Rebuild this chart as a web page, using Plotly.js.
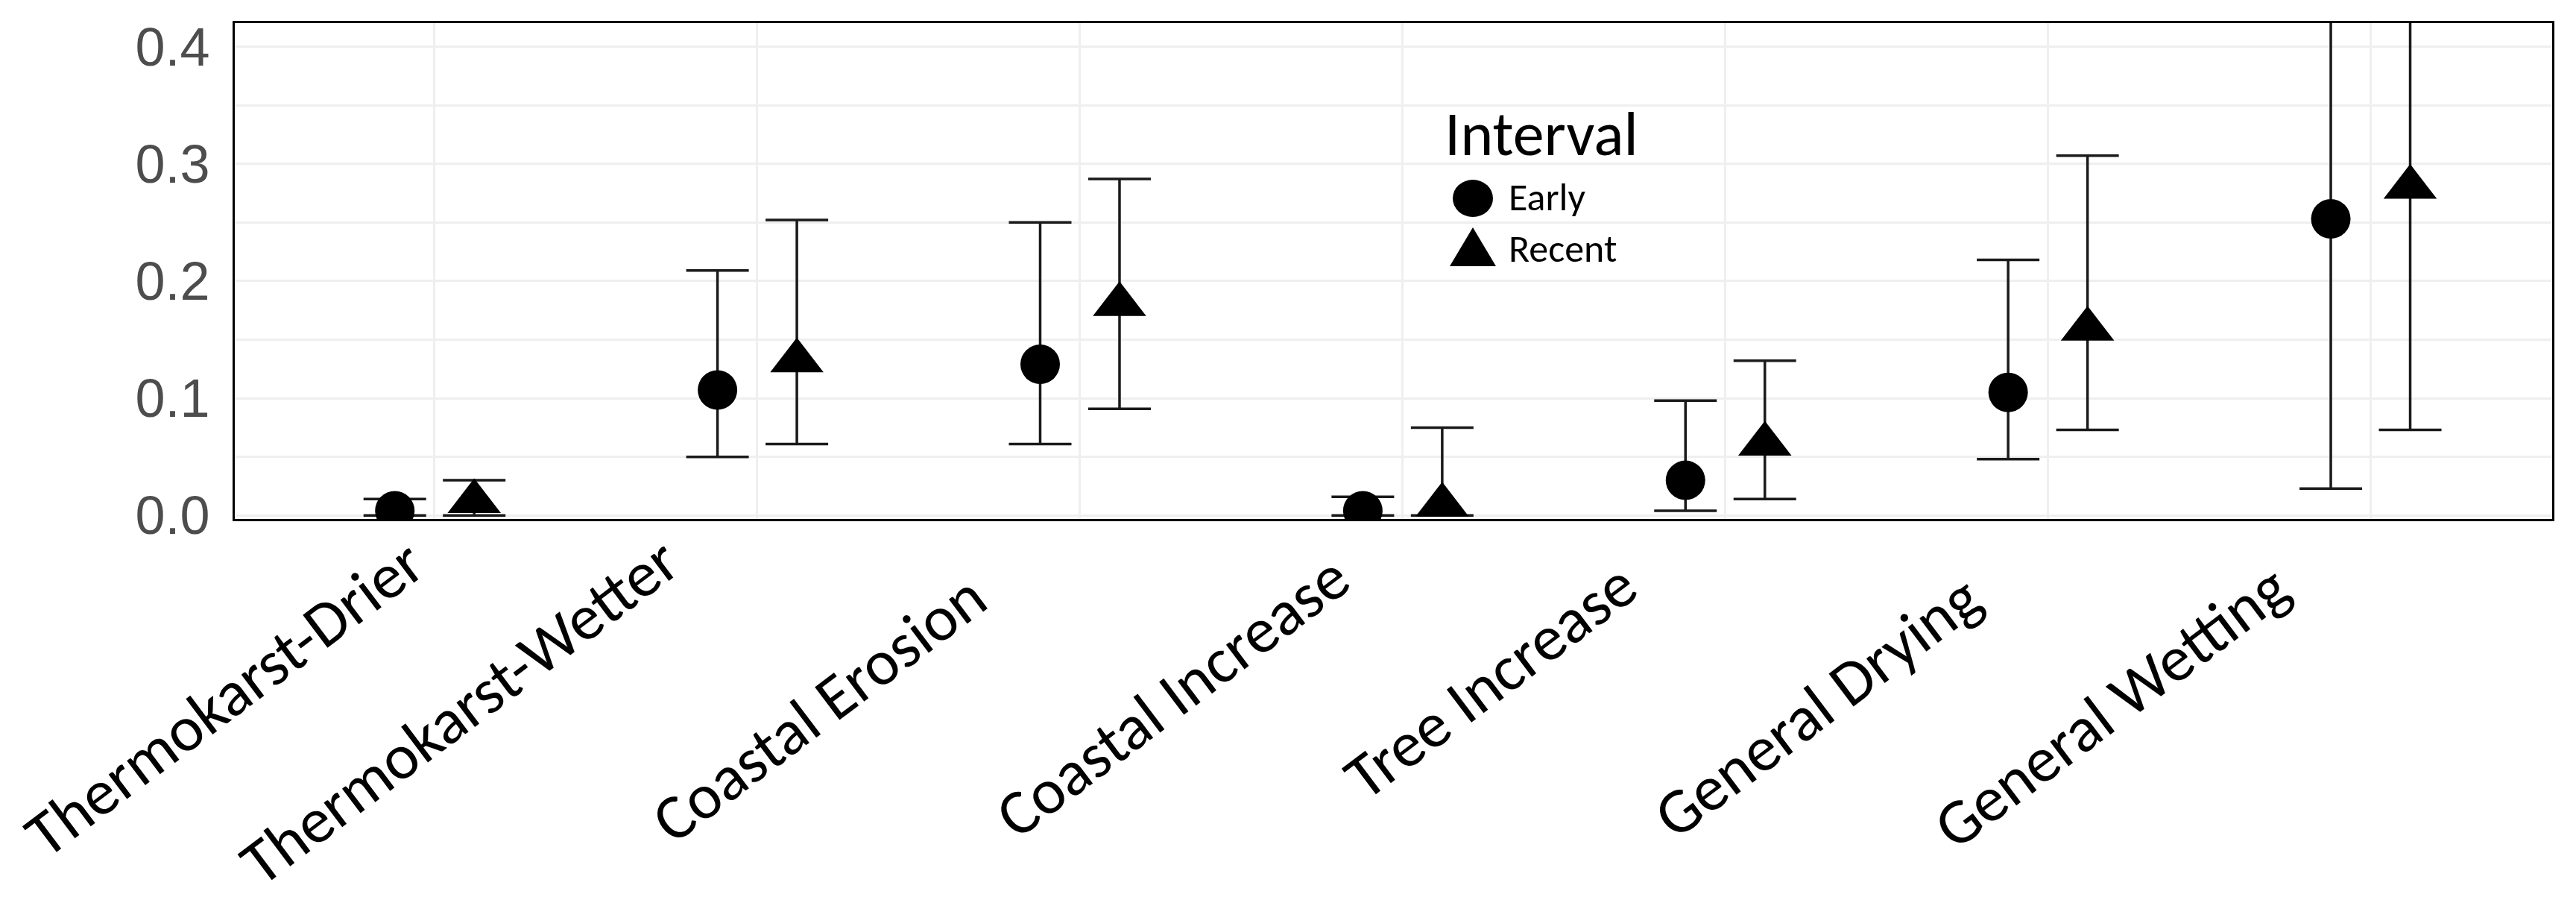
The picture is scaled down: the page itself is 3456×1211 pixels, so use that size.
<!DOCTYPE html>
<html>
<head>
<meta charset="utf-8">
<script src="https://cdn.plot.ly/plotly-3.0.1.min.js"></script>
<style>html,body{margin:0;padding:0;background:#fff;}#chart{width:3456px;height:1211px;}</style>
</head>
<body>
<div id="chart"></div>
<script>
// ---- data ----
const categories = ["Thermokarst-Drier","Thermokarst-Wetter","Coastal Erosion","Coastal Increase","Tree Increase","General Drying","General Wetting"];
const earlyValue = [0.004, 0.107, 0.129, 0.004, 0.030, 0.105, 0.253];
const earlyLower = [0.000, 0.050, 0.061, 0.000, 0.004, 0.048, 0.023];
const earlyUpper = [0.014, 0.209, 0.250, 0.016, 0.098, 0.218, 0.520];
const recentValue = [0.012, 0.132, 0.180, 0.009, 0.061, 0.159, 0.280];
const recentLower = [0.000, 0.061, 0.091, 0.000, 0.014, 0.073, 0.073];
const recentUpper = [0.030, 0.252, 0.287, 0.075, 0.132, 0.307, 0.520];
const yTickVals = [0.0, 0.1, 0.2, 0.3, 0.4];
const yTickText = ["0.0", "0.1", "0.2", "0.3", "0.4"];
const seriesNames = ["Early", "Recent"];
const legendTitle = "Interval";

// ---- layout (label placement offsets in pixels, hand-placed in the original) ----
const labelShiftX = [7, -83, -104, -50, -97, -69, -88];
const labelTopY  = [700, 697, 746, 720, 730, 747, 733];

const dodge = 0.123;
const catIdx = categories.map((c, i) => i + 1);
const errCol = "#1a1a1a";

function mkTrace(name, vals, lo, hi, shift, symbol, size) {
  return {
    type: "scatter", mode: "markers", name: name,
    x: catIdx.map(v => v + shift), y: vals,
    marker: {symbol: symbol, size: size, color: "#000000", line: {width: 0}},
    error_y: {
      type: "data", symmetric: false,
      array: vals.map((v, i) => hi[i] - v),
      arrayminus: vals.map((v, i) => v - lo[i]),
      color: errCol, thickness: 3.5, width: 42
    },
    showlegend: false,
    cliponaxis: true
  };
}

const traces = [
  mkTrace(seriesNames[0], earlyValue, earlyLower, earlyUpper, -dodge, "circle", 53),
  mkTrace(seriesNames[1], recentValue, recentLower, recentUpper, dodge, "triangle-up", 62)
];

const L = 315, R = 32, T = 31, B = 515;
const W = 3456, H = 1211;
const pw = W - L - R, ph = H - T - B;
const px = x => (x - L) / pw;
const py = y => (H - B - y) / ph;

const txtFont = "Carlito, Lato, 'Open Sans', sans-serif";

const catLabels = categories.map((c, i) => ({
  text: c, xref: "x", yref: "paper", x: catIdx[i], y: py(labelTopY[i]),
  xanchor: "right", yanchor: "top", xshift: labelShiftX[i],
  textangle: -37, showarrow: false, borderpad: 0,
  font: {family: txtFont, size: 86, color: "#000000"}
}));

const layout = {
  width: W, height: H,
  margin: {l: L, r: R, t: T, b: B, pad: 0},
  paper_bgcolor: "#ffffff", plot_bgcolor: "#ffffff",
  showlegend: false,
  xaxis: {
    range: [0.381, 7.563],
    tickmode: "array", tickvals: catIdx, ticktext: categories,
    showticklabels: false,
    showgrid: true, gridcolor: "#EFEFEF", gridwidth: 3,
    zeroline: false,
    showline: true, linecolor: "#000000", linewidth: 3, mirror: true,
    ticks: ""
  },
  yaxis: {
    range: [-0.003, 0.42],
    tickmode: "array", tickvals: yTickVals, ticktext: yTickText,
    tickfont: {family: "'Liberation Sans', Arial, sans-serif", size: 72, color: "#4D4D4D"},
    showgrid: true, gridcolor: "#EFEFEF", gridwidth: 3,
    minor: {dtick: 0.05, tick0: 0, showgrid: true, gridcolor: "#EFEFEF", gridwidth: 3, ticks: ""},
    zeroline: false,
    showline: true, linecolor: "#000000", linewidth: 3, mirror: true,
    ticks: "", ticklabelstandoff: 16
  },
  shapes: [
    {type: "circle", xref: "paper", yref: "paper", xsizemode: "pixel", ysizemode: "pixel",
     xanchor: px(1976), yanchor: py(266), x0: -27, x1: 27, y0: -25, y1: 25,
     fillcolor: "#000000", line: {width: 0}},
    {type: "path", xref: "paper", yref: "paper", xsizemode: "pixel", ysizemode: "pixel",
     xanchor: px(1976), yanchor: py(331), path: "M-31,-26L31,-26L0,26Z",
     fillcolor: "#000000", line: {width: 0}}
  ],
  annotations: [
    {text: legendTitle, xref: "paper", yref: "paper", x: px(1936), y: py(179),
     xanchor: "left", yanchor: "middle", showarrow: false,
     font: {family: txtFont, size: 84, color: "#000000"}},
    {text: seriesNames[0], xref: "paper", yref: "paper", x: px(2022), y: py(264),
     xanchor: "left", yanchor: "middle", showarrow: false,
     font: {family: txtFont, size: 52, color: "#000000"}},
    {text: seriesNames[1], xref: "paper", yref: "paper", x: px(2022), y: py(333),
     xanchor: "left", yanchor: "middle", showarrow: false,
     font: {family: txtFont, size: 52, color: "#000000"}}
  ].concat(catLabels)
};

Plotly.newPlot("chart", traces, layout, {staticPlot: true, displayModeBar: false});
</script>
</body>
</html>
